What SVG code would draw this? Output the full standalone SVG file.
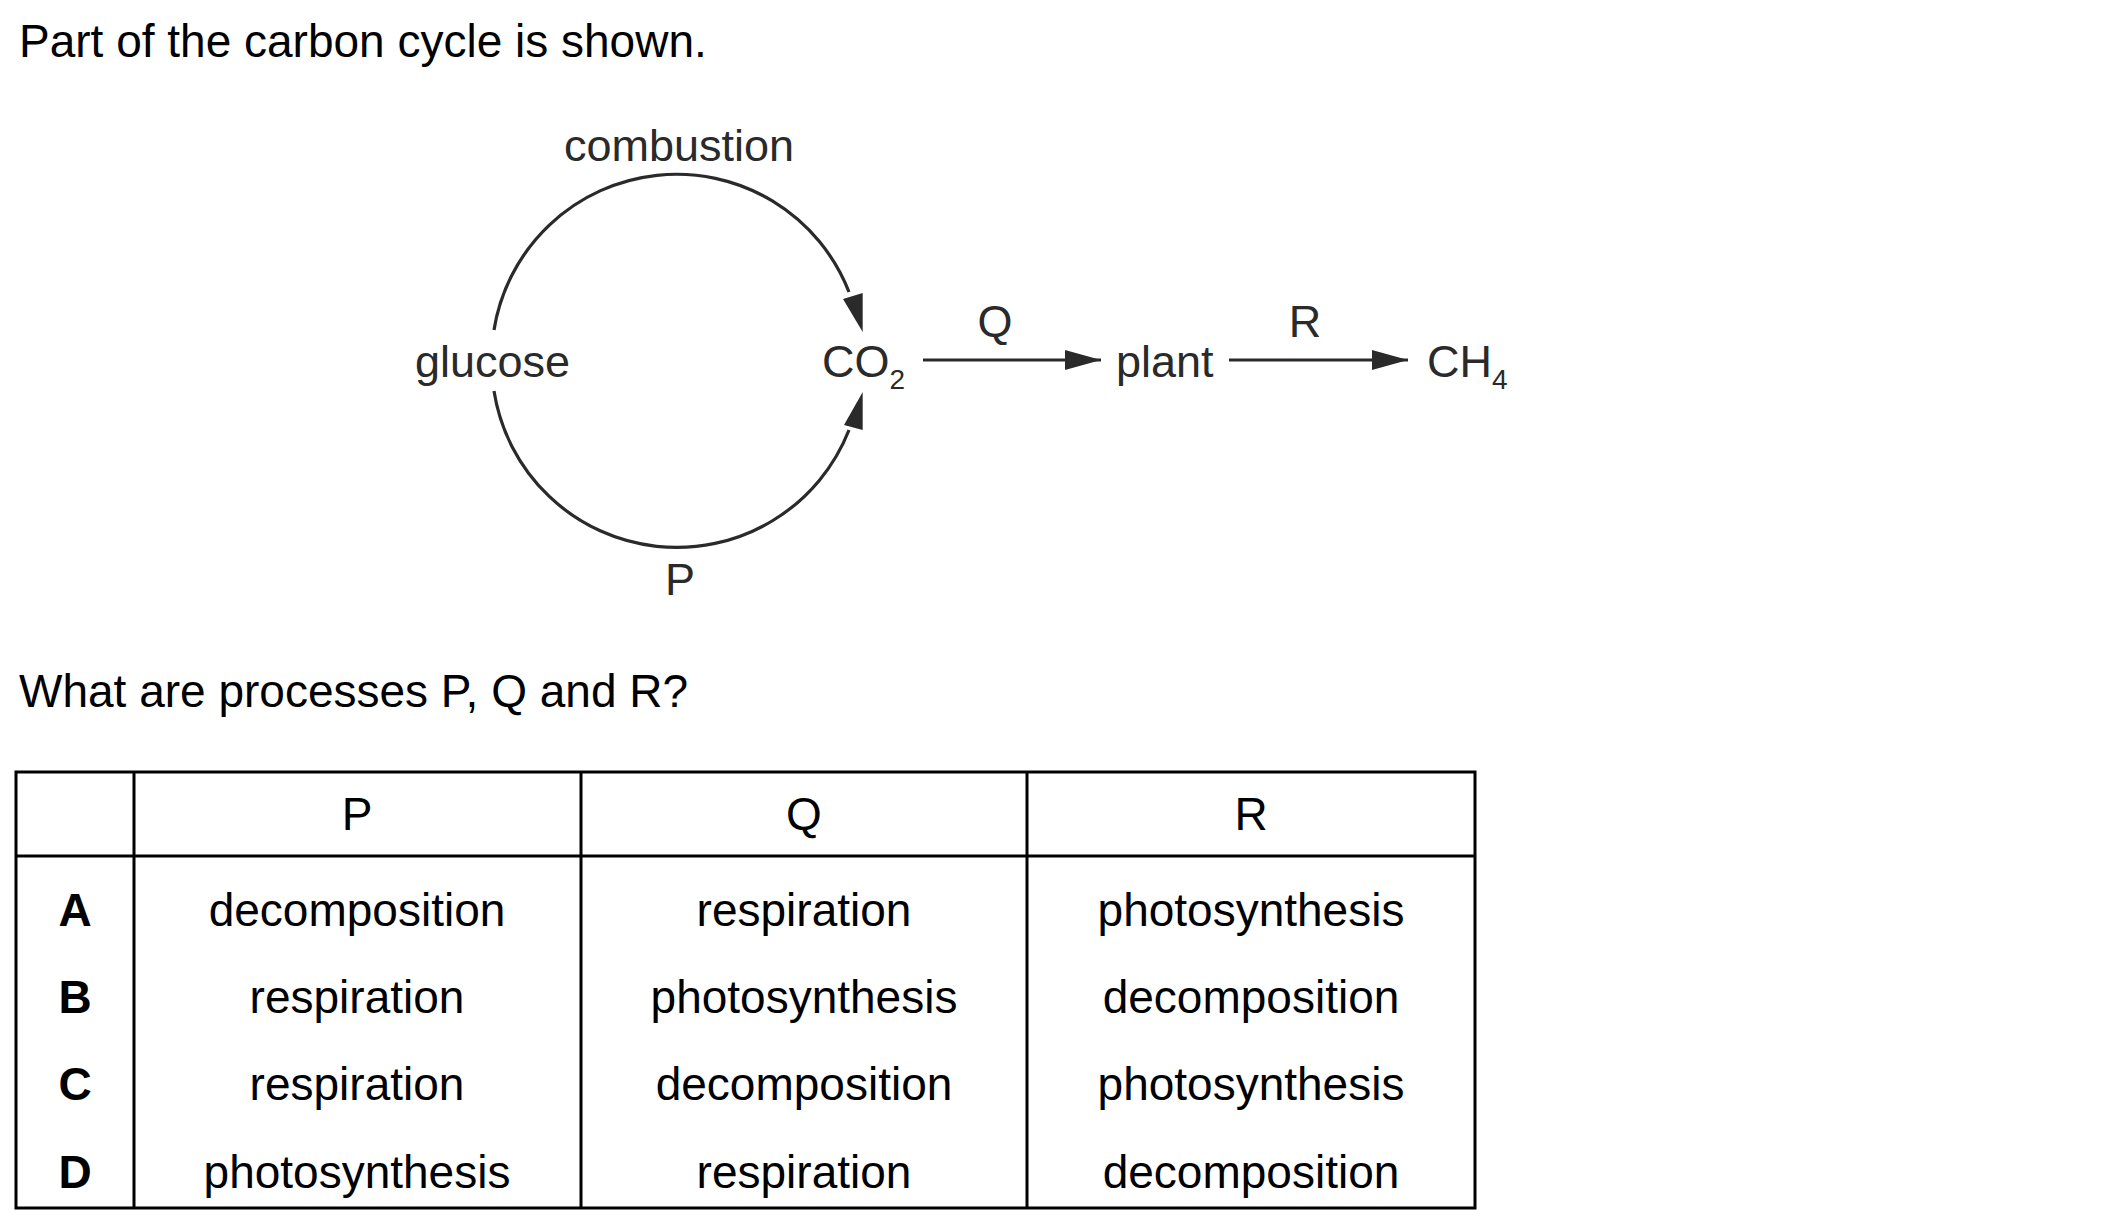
<svg xmlns="http://www.w3.org/2000/svg" width="2101" height="1232" viewBox="0 0 2101 1232">
<style>
text { font-family: "Liberation Sans", Arial, sans-serif; font-size: 46px; fill: #000; }
.lbl { fill: #2a2a2a; font-size: 45px; }
.sub { font-size: 28px; }
.mid { text-anchor: middle; }
.bold { font-weight: bold; }
.arc { fill: none; stroke: #2a2a2a; stroke-width: 3.2; }
.head { fill: #2a2a2a; stroke: none; }
.line { stroke: #2a2a2a; stroke-width: 3; fill: none; }
.grid { stroke: #000; stroke-width: 3; fill: none; }
</style>
<defs>
<marker id="arrow" markerWidth="36" markerHeight="20" refX="36" refY="10" markerUnits="userSpaceOnUse" orient="auto">
<polygon points="0,0 36,10 0,20" fill="#2a2a2a"/>
</marker>
</defs>
<rect width="2101" height="1232" fill="#fff"/>
<text x="19" y="57">Part of the carbon cycle is shown.</text>

<g id="connectors">
<path class="arc" d="M 494 330 A 185 185 0 0 1 849 292"/>
<polygon class="head" points="843,299 862.7,293 862.7,332"/>
<path class="arc" d="M 494 391 A 185 185 0 0 0 849 430"/>
<polygon class="head" points="844,425 862.7,430 862.7,392"/>
<line class="line" x1="923" y1="360" x2="1101" y2="360" marker-end="url(#arrow)"/>
<line class="line" x1="1229" y1="360" x2="1408" y2="360" marker-end="url(#arrow)"/>
<text class="lbl mid" x="679" y="161">combustion</text>
<text class="lbl mid" x="680" y="595">P</text>
<text class="lbl mid" x="995" y="337">Q</text>
<text class="lbl mid" x="1305" y="337">R</text>
</g>

<g id="glucose"><text class="lbl" x="415" y="377">glucose</text></g>
<g id="co2"><text class="lbl" x="822" y="377">CO<tspan class="sub" y="389">2</tspan></text></g>
<g id="plant"><text class="lbl" x="1116" y="377">plant</text></g>
<g id="ch4"><text class="lbl" x="1427" y="377">CH<tspan class="sub" y="389">4</tspan></text></g>

<text x="19" y="707">What are processes P, Q and R?</text>

<g id="table">
<rect class="grid" x="16" y="772" width="1459" height="436"/>
<line class="grid" x1="16" y1="856" x2="1475" y2="856"/>
<line class="grid" x1="134" y1="772" x2="134" y2="1208"/>
<line class="grid" x1="581" y1="772" x2="581" y2="1208"/>
<line class="grid" x1="1027" y1="772" x2="1027" y2="1208"/>
<text class="mid" x="357" y="830">P</text>
<text class="mid" x="804" y="830">Q</text>
<text class="mid" x="1251" y="830">R</text>
<text class="mid bold" x="75" y="926">A</text>
<text class="mid bold" x="75" y="1013">B</text>
<text class="mid bold" x="75" y="1100">C</text>
<text class="mid bold" x="75" y="1188">D</text>
<text class="mid" x="357" y="926">decomposition</text>
<text class="mid" x="357" y="1013">respiration</text>
<text class="mid" x="357" y="1100">respiration</text>
<text class="mid" x="357" y="1188">photosynthesis</text>
<text class="mid" x="804" y="926">respiration</text>
<text class="mid" x="804" y="1013">photosynthesis</text>
<text class="mid" x="804" y="1100">decomposition</text>
<text class="mid" x="804" y="1188">respiration</text>
<text class="mid" x="1251" y="926">photosynthesis</text>
<text class="mid" x="1251" y="1013">decomposition</text>
<text class="mid" x="1251" y="1100">photosynthesis</text>
<text class="mid" x="1251" y="1188">decomposition</text>
</g>
</svg>
